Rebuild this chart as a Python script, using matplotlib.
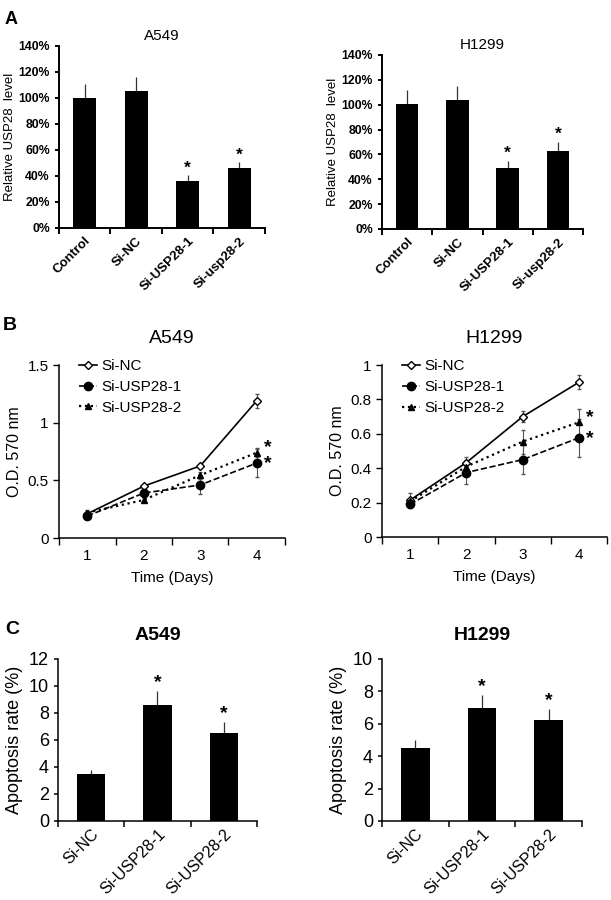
import matplotlib
matplotlib.use("Agg")
import matplotlib.pyplot as plt
import numpy as np

plt.rcParams['font.family'] = ['Liberation Sans', 'DejaVu Sans']

# panel A: relative USP28 level (%)
groups_a = ['Control', 'Si-NC', 'Si-USP28-1', 'Si-usp28-2']
a549_level = [100, 105.5, 36.5, 46]
a549_level_err = [11, 11, 4, 4.5]
h1299_level = [100.5, 104, 49, 63]
h1299_level_err = [11.5, 11, 6, 7]

# panel B: O.D. 570 nm over days
days = [1, 2, 3, 4]
a549_nc = [0.21, 0.45, 0.625, 1.19]
a549_nc_err = [0.02, 0.02, 0.02, 0.06]
a549_sh1 = [0.19, 0.39, 0.46, 0.65]
a549_sh1_err = [0.02, 0.03, 0.08, 0.12]
a549_sh2 = [0.22, 0.33, 0.545, 0.74]
a549_sh2_err = [0.02, 0.02, 0.03, 0.04]
h1299_nc = [0.215, 0.433, 0.70, 0.90]
h1299_nc_err = [0.04, 0.035, 0.03, 0.04]
h1299_sh1 = [0.19, 0.375, 0.45, 0.577]
h1299_sh1_err = [0.02, 0.065, 0.085, 0.11]
h1299_sh2 = [0.207, 0.41, 0.555, 0.667]
h1299_sh2_err = [0.02, 0.04, 0.07, 0.08]

# panel C: apoptosis rate (%)
groups_c = ['Si-NC', 'Si-USP28-1', 'Si-USP28-2']
a549_apo = [3.45, 8.6, 6.55]
a549_apo_err = [0.35, 1.05, 0.75]
h1299_apo = [4.5, 7.0, 6.23]
h1299_apo_err = [0.5, 0.8, 0.7]

fig = plt.figure(figsize=(6.11, 9.0), dpi=100)


def style_axes(ax, lw):
    for s in ['top', 'right']:
        ax.spines[s].set_visible(False)
    for s in ['left', 'bottom']:
        ax.spines[s].set_linewidth(lw)
        ax.spines[s].set_color('black')


def bar_panel(ax, groups, vals, errs, stars, ylim, yticks, fsize, bold, width, lw, pad):
    x = np.arange(len(groups))
    ax.bar(x, vals, width=width, color='black', zorder=2)
    ax.errorbar(x, vals, yerr=[np.zeros(len(vals)), errs], fmt='none',
                ecolor='#333333', elinewidth=0.9, capsize=0, zorder=1)
    ax.set_xlim(-0.5, len(groups) - 0.5)
    ax.set_ylim(*ylim)
    ax.set_yticks(yticks)
    ax.set_xticks(np.arange(len(groups) + 1) - 0.5, minor=True)
    ax.set_xticks(x)
    ax.set_xticklabels(groups, rotation=45, ha='right', rotation_mode='anchor',
                       fontsize=fsize, fontweight='bold' if bold else 'normal')
    ax.tick_params(axis='x', which='major', length=0, pad=pad)
    ax.tick_params(axis='x', which='minor', length=4, width=lw, direction='out')
    ax.tick_params(axis='y', length=3, width=lw, direction='out')
    style_axes(ax, lw)
    for i in stars:
        ax.text(x[i], vals[i] + errs[i], '*', ha='center', va='bottom',
                fontsize=fsize + 3, fontweight='bold')


# ---- A ----
axA1 = fig.add_axes([0.0966, 0.7467, 0.337, 0.2022])
axA2 = fig.add_axes([0.6252, 0.7456, 0.329, 0.1933])
for ax, vals, errs, title in [(axA1, a549_level, a549_level_err, 'A549'),
                              (axA2, h1299_level, h1299_level_err, 'H1299')]:
    bar_panel(ax, groups_a, vals, errs, [2, 3], (0, 140), range(0, 141, 20),
              9.5, True, 0.45, 1.4, 5)
    ax.set_yticklabels(['%d%%' % v for v in range(0, 141, 20)],
                       fontsize=8.8, fontweight='bold')
    ax.set_ylabel('Relative USP28  level', fontsize=9.5, labelpad=2)
    ax.set_title(title, fontsize=11, pad=4)
fig.text(0.008, 0.978, 'A', fontsize=13, fontweight='bold', va='center')

# ---- B ----
axB1 = fig.add_axes([0.0966, 0.4022, 0.3698, 0.1922])
axB2 = fig.add_axes([0.6252, 0.4033, 0.3683, 0.1911])
series_b = [
    (axB1, a549_nc, a549_nc_err, a549_sh1, a549_sh1_err, a549_sh2, a549_sh2_err,
     'A549', (0, 1.5), [0, 0.5, 1, 1.5], ['0', '0.5', '1', '1.5']),
    (axB2, h1299_nc, h1299_nc_err, h1299_sh1, h1299_sh1_err, h1299_sh2, h1299_sh2_err,
     'H1299', (0, 1.0), [0, 0.2, 0.4, 0.6, 0.8, 1.0], ['0', '0.2', '0.4', '0.6', '0.8', '1']),
]
for ax, nc, nce, s1, s1e, s2, s2e, title, ylim, yt, ytl in series_b:
    ax.errorbar(days, nc, yerr=nce, fmt='none', ecolor='#555555', elinewidth=0.8, capsize=1.5)
    ax.errorbar(days, s1, yerr=s1e, fmt='none', ecolor='#555555', elinewidth=0.8, capsize=1.5)
    ax.errorbar(days, s2, yerr=s2e, fmt='none', ecolor='#555555', elinewidth=0.8, capsize=1.5)
    ax.plot(days, nc, '-', color='black', lw=1.2, marker='D', markersize=4.5,
            mfc='white', mec='black', mew=1.0, label='Si-NC')
    ax.plot(days, s1, '--', color='black', lw=1.2, marker='o', markersize=6,
            mfc='black', mec='black', label='Si-USP28-1')
    ax.plot(days, s2, ':', color='black', lw=1.6, marker='^', markersize=5,
            mfc='black', mec='black', label='Si-USP28-2')
    ax.set_xlim(0.5, 4.5)
    ax.set_ylim(*ylim)
    ax.set_yticks(yt)
    ax.set_yticklabels(ytl, fontsize=11)
    ax.set_xticks(days)
    ax.set_xticklabels([str(d) for d in days], fontsize=11)
    ax.set_xticks([0.5, 1.5, 2.5, 3.5, 4.5], minor=True)
    ax.tick_params(axis='x', which='major', length=0, pad=8)
    ax.tick_params(axis='x', which='minor', length=5, width=1.0, direction='out')
    ax.tick_params(axis='y', length=4, width=1.0, direction='out')
    style_axes(ax, 1.1)
    ax.set_xlabel('Time (Days)', fontsize=11, labelpad=6)
    ax.set_ylabel('O.D. 570 nm', fontsize=11.5)
    ax.set_title(title, fontsize=14, pad=16)
    ax.text(4.12, s2[3] + ylim[1] * 0.03, '*', fontsize=14, fontweight='bold', va='center')
    ax.text(4.12, s1[3] - ylim[1] * 0.005, '*', fontsize=14, fontweight='bold', va='center')
    ax.legend(loc='upper left', bbox_to_anchor=(0.06, 1.07), frameon=False,
              fontsize=11, handlelength=1.2, handletextpad=0.3,
              labelspacing=0.45, borderaxespad=0)
fig.text(0.005, 0.638, 'B', fontsize=14, fontweight='bold', va='center')

# ---- C ----
axC1 = fig.add_axes([0.0949, 0.0878, 0.3257, 0.18])
axC2 = fig.add_axes([0.6252, 0.0878, 0.3273, 0.18])
for ax, vals, errs, title, ymax in [(axC1, a549_apo, a549_apo_err, 'A549', 12),
                                     (axC2, h1299_apo, h1299_apo_err, 'H1299', 10)]:
    bar_panel(ax, groups_c, vals, errs, [1, 2], (0, ymax), range(0, ymax + 1, 2),
              11.5, False, 0.43, 1.1, 4)
    for t in ax.texts:
        t.set_fontsize(14)
    ax.tick_params(axis='y', labelsize=13)
    ax.set_ylabel('Apoptosis rate (%)', fontsize=13)
    ax.set_title(title, fontsize=14, fontweight='bold', pad=14)
fig.text(0.008, 0.3, 'C', fontsize=14, fontweight='bold', va='center')

fig.savefig('out.png', dpi=100)
